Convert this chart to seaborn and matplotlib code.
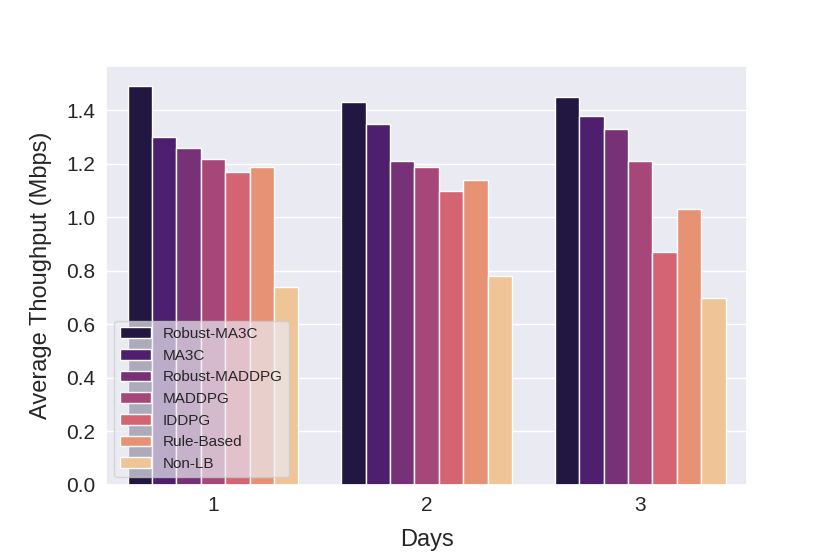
import pandas as pd
import seaborn as sns
import matplotlib.pyplot as plt

days = ["1", "2", "3"]
methods = ["Robust-MA3C", "MA3C", "Robust-MADDPG", "MADDPG", "IDDPG", "Rule-Based", "Non-LB"]
day1 = [1.49, 1.30, 1.26, 1.22, 1.17, 1.19, 0.74]
day2 = [1.43, 1.35, 1.21, 1.19, 1.10, 1.14, 0.78]
day3 = [1.45, 1.38, 1.33, 1.21, 0.87, 1.03, 0.70]

rows = []
for d, vals in zip(days, [day1, day2, day3]):
    for m, v in zip(methods, vals):
        rows.append({"Days": d, "Method": m, "Throughput": v})
df = pd.DataFrame(rows)

sns.set_theme(style="darkgrid", font_scale=1.3)
plt.rcParams['font.family'] = ['Liberation Sans', 'DejaVu Sans']

fig, ax = plt.subplots(figsize=(8.3, 5.54), dpi=100)
fig.subplots_adjust(left=0.128, right=0.9, top=0.88, bottom=0.125)
sns.barplot(data=df, x="Days", y="Throughput", hue="Method", palette="magma", ax=ax)
ax.set_xlabel('Days', fontsize=17, labelpad=10)
ax.set_ylabel('Average Thoughput (Mbps)', fontsize=17, labelpad=10)
ax.tick_params(labelsize=15, pad=2)
ax.legend(loc="lower left", fontsize=11, framealpha=0.7)
plt.savefig("out.png", dpi=100)
